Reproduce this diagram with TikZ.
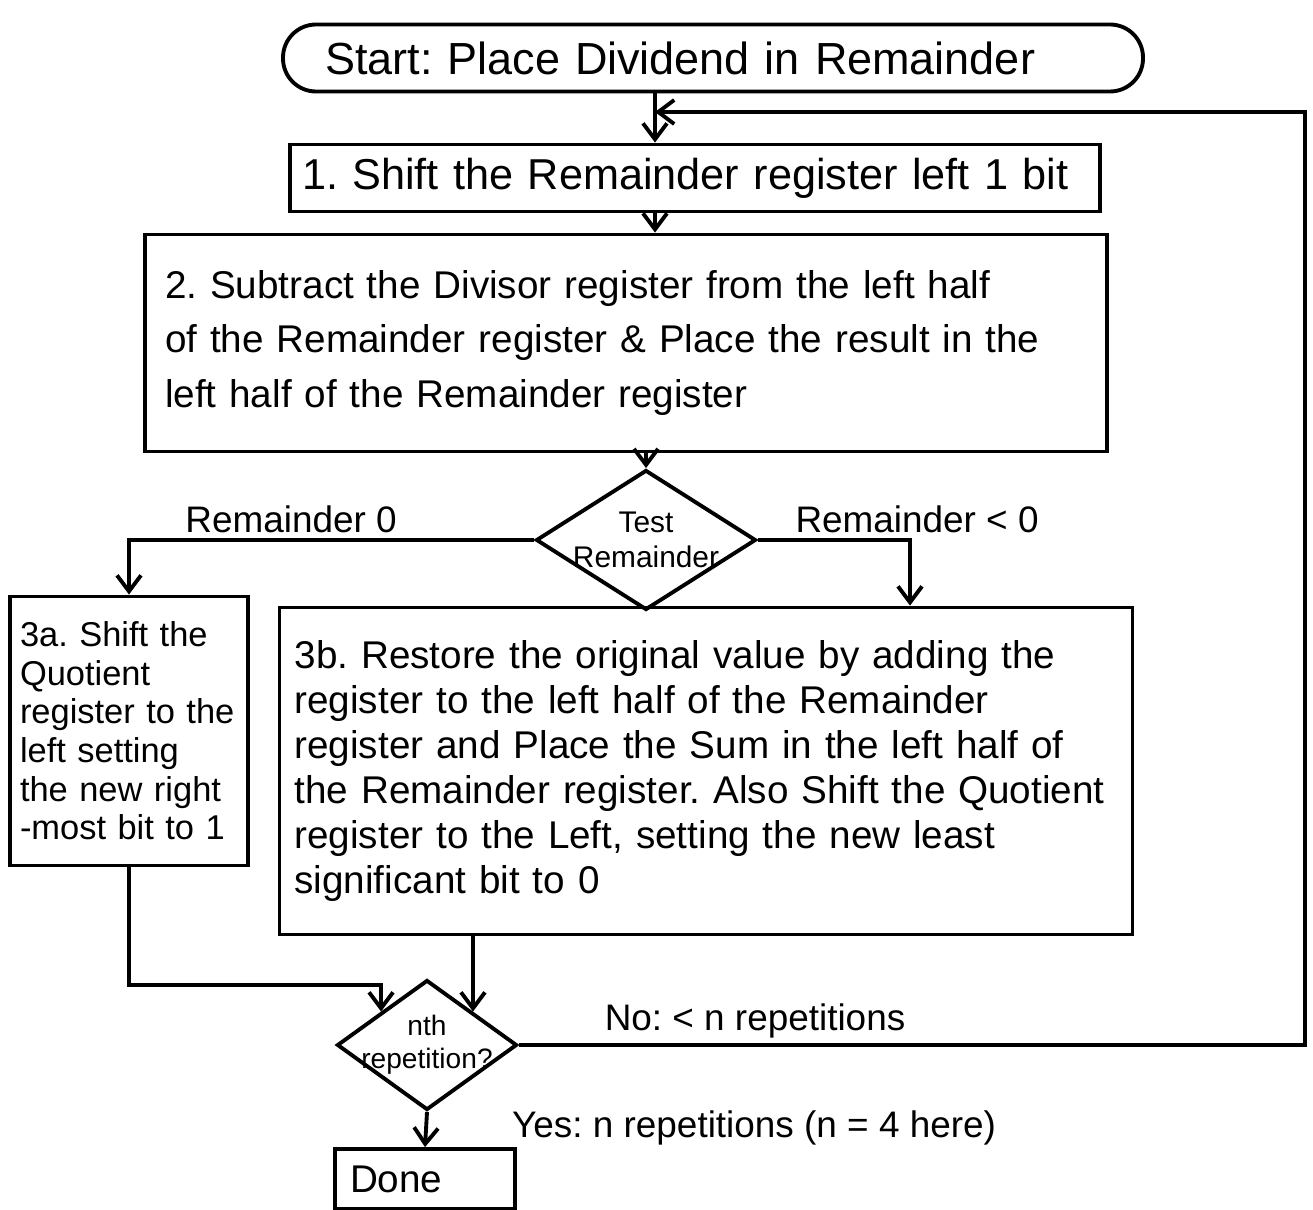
\documentclass[tikz,border=0pt]{standalone}
\usepackage{fontspec}
\setmainfont{Liberation Sans}
\usetikzlibrary{shapes.geometric,arrows.meta,calc}
\begin{document}
\frenchspacing
\begin{tikzpicture}[x=0.1mm,y=-0.1mm,
  line width=1.1pt,
  arr/.style={-{Straight Barb[length=1.6mm,width=2.4mm]}},
  procbox/.style={draw, rectangle, align=left, inner ysep=1.2mm},
  decision/.style={draw, diamond, inner sep=0pt},
  lbl/.style={font=\fontsize{10.5}{12}\selectfont, inner sep=1.5pt},
  dlbl/.style={font=\fontsize{8.5}{10}\selectfont, align=center, inner sep=0pt}]
\useasboundingbox (0,0) rectangle (1313,1209);
\fill[white] (0,0) rectangle (1313,1209);

% nodes
\node[draw, rounded corners=3.3mm, inner xsep=4.2mm, text width=77.6mm, align=left,
      minimum height=6.7mm, font=\fontsize{12.8}{15}\selectfont] (start) at (713,58)
  {Start: Place Dividend in Remainder};
\node[procbox, inner xsep=1.2mm, text width=78.6mm, minimum height=6.7mm,
      font=\fontsize{12.3}{14}\selectfont] (s1) at (695,178) {1. Shift the Remainder register left 1 bit};
\node[procbox, inner xsep=2mm, text width=92.2mm, minimum height=21.7mm,
      font=\fontsize{11}{15.5}\selectfont] (s2) at (626,343)
  {2. Subtract the Divisor register from the left half\\
   of the Remainder register \& Place the result in the\\
   left half of the Remainder register};
\node[decision, minimum width=22mm, minimum height=14mm,
      label={[dlbl]center:Test\\Remainder}] (d1) at (646,540) {};
\node[procbox, inner xsep=1mm, text width=21.8mm, minimum height=26.9mm,
      font=\fontsize{9.8}{11}\selectfont] (s3a) at (129,731)
  {3a. Shift the\\Quotient\\register to the\\left setting\\the new right\\-most bit to 1};
\node[procbox, inner xsep=1.5mm, text width=82.3mm, minimum height=32.7mm,
      font=\fontsize{11}{12.8}\selectfont] (s3b) at (706,771)
  {3b. Restore the original value by adding the\\
   register to the left half of the Remainder\\
   register and Place the Sum in the left half of\\
   the Remainder register. Also Shift the Quotient\\
   register to the Left, setting the new least\\
   significant bit to 0};
\node[decision, minimum width=18mm, minimum height=13mm,
      label={[dlbl, font=\fontsize{8}{9.5}\selectfont]center:nth\\repetition?}] (d2) at (427,1045) {};
\node[procbox, inner xsep=1.5mm, text width=15mm, minimum height=6mm,
      font=\fontsize{11}{13}\selectfont] (done) at (425,1179) {Done};

% helper coordinates
\coordinate (j1) at (655,112);
\coordinate (rt) at (1305,112);
\coordinate (bx) at (910,600);
\coordinate (m1) at (0,985);

% connectors
\draw[arr] (start.south -| j1) -- (s1.north -| j1);
\draw[arr] (s1.south -| j1) -- (s2.north -| j1);
\draw[arr] (s2.south -| d1.north) -- (d1.north);
\draw[arr] (d1.west) -| node[lbl, pos=0.3, above] (l0) {Remainder 0} (s3a.north);
\draw[arr] (d1.east) -| node[lbl, pos=0.1, above right] (l1) {Remainder < 0} (s3b.north -| bx);
\draw[arr] (s3a.south) -- (s3a.south |- m1) -| (d2.north west);
\draw[arr] (s3b.south -| d2.north east) -- (d2.north east);
\draw[arr] (d2.east) -| node[lbl, pos=0.05, above right] (lno) {No: < n repetitions} (rt) -- (j1);
\draw[arr] (d2.south) -- (done.north);
\node[lbl, anchor=west] (lyes) at (505,1128) {Yes: n repetitions (n = 4 here)};
\end{tikzpicture}
\end{document}
